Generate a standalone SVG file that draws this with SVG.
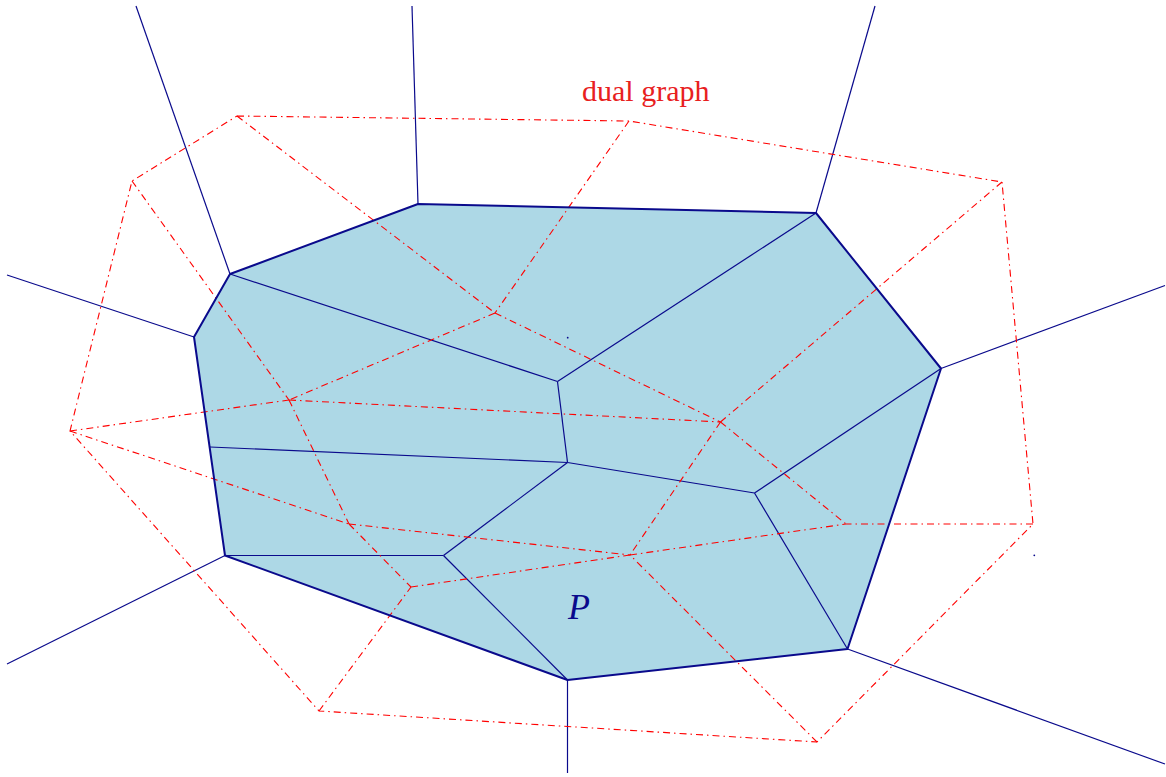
<svg xmlns="http://www.w3.org/2000/svg" width="1166" height="777" viewBox="0 0 1166 777">
<style>
.fill{fill:#ADD8E6;stroke:none}
.border{fill:none;stroke:#0a0a8c;stroke-width:2;stroke-linejoin:round}
.vor{fill:none;stroke:#0a0a8c;stroke-width:1.2}
.dual{fill:none;stroke:#ff0000;stroke-width:1.1;stroke-dasharray:7 4 1.5 4}
.lbl{font-family:"Liberation Serif","DejaVu Serif",serif}
</style>
<rect width="1166" height="777" fill="#ffffff"/>
<g id="polygon-P-fill">
<polygon class="fill" points="418,204 816,213 941,368.5 847.5,649 567.5,680 225,555.5 194,337 230,274"/>
</g>
<g id="voronoi-edges">
<line class="vor" x1="230" y1="274" x2="557.5" y2="381.5"/>
<line class="vor" x1="557.5" y1="381.5" x2="816" y2="213"/>
<line class="vor" x1="557.5" y1="381.5" x2="567.5" y2="462.5"/>
<line class="vor" x1="210" y1="447" x2="567.5" y2="462.5"/>
<line class="vor" x1="567.5" y1="462.5" x2="754.5" y2="493"/>
<line class="vor" x1="754.5" y1="493" x2="941" y2="368.5"/>
<line class="vor" x1="754.5" y1="493" x2="847.5" y2="649"/>
<line class="vor" x1="567.5" y1="462.5" x2="443.5" y2="555.5"/>
<line class="vor" x1="225" y1="555.5" x2="443.5" y2="555.5"/>
<line class="vor" x1="443.5" y1="555.5" x2="567.5" y2="680"/>
<line class="vor" x1="230" y1="274" x2="136" y2="6"/>
<line class="vor" x1="418" y1="204" x2="412" y2="6"/>
<line class="vor" x1="816" y1="213" x2="875" y2="6"/>
<line class="vor" x1="194" y1="337" x2="7" y2="275"/>
<line class="vor" x1="941" y1="368.5" x2="1165" y2="285.5"/>
<line class="vor" x1="225" y1="555.5" x2="7" y2="664"/>
<line class="vor" x1="847.5" y1="649" x2="1165" y2="764"/>
<line class="vor" x1="567.5" y1="680" x2="567.5" y2="773"/>
<circle cx="567.7" cy="337.7" r="0.9" fill="#0a0a8c"/>
<circle cx="1034.3" cy="555.3" r="0.9" fill="#0a0a8c"/>
</g>
<g id="dual-graph">
<polygon class="dual" points="237,116 629,121 1002,182 1033,524 817,742 319,711 70,431 132,181"/>
<line class="dual" x1="237" y1="116" x2="495" y2="313"/>
<line class="dual" x1="629" y1="121" x2="495" y2="313"/>
<line class="dual" x1="1002" y1="182" x2="720.5" y2="422"/>
<line class="dual" x1="1033" y1="524" x2="846" y2="524"/>
<line class="dual" x1="817" y1="742" x2="630" y2="555"/>
<line class="dual" x1="319" y1="711" x2="411" y2="587"/>
<line class="dual" x1="70" y1="431" x2="349" y2="524"/>
<line class="dual" x1="70" y1="431" x2="289" y2="400"/>
<line class="dual" x1="132" y1="181" x2="289" y2="400"/>
<line class="dual" x1="495" y1="313" x2="289" y2="400"/>
<line class="dual" x1="495" y1="313" x2="720.5" y2="422"/>
<line class="dual" x1="289" y1="400" x2="720.5" y2="422"/>
<line class="dual" x1="289" y1="400" x2="349" y2="524"/>
<line class="dual" x1="720.5" y1="422" x2="630" y2="555"/>
<line class="dual" x1="720.5" y1="422" x2="846" y2="524"/>
<line class="dual" x1="630" y1="555" x2="846" y2="524"/>
<line class="dual" x1="349" y1="524" x2="630" y2="555"/>
<line class="dual" x1="349" y1="524" x2="411" y2="587"/>
<line class="dual" x1="411" y1="587" x2="630" y2="555"/>
</g>
<g id="polygon-P-border">
<polygon class="border" points="418,204 816,213 941,368.5 847.5,649 567.5,680 225,555.5 194,337 230,274"/>
</g>
<g id="label-dual-graph">
<text class="lbl" x="582" y="101" font-size="30" fill="#e8201e">dual graph</text>
</g>
<g id="label-P">
<text class="lbl" x="568" y="619" font-size="36" font-style="italic" fill="#0a0a8c">P</text>
</g>
</svg>
